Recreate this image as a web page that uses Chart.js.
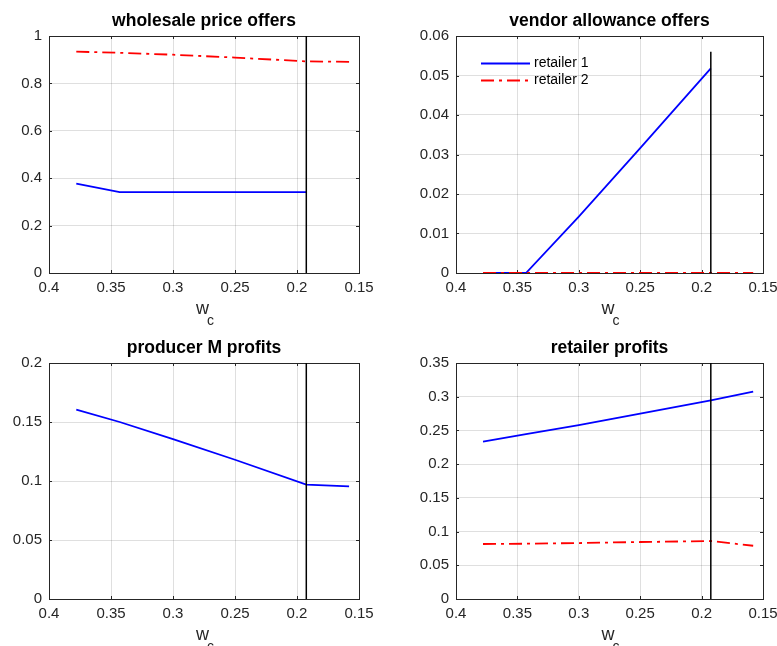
<!DOCTYPE html>
<html>
<head>
<meta charset="utf-8">
<title>offers and profits vs w_c</title>
<script src="https://cdn.jsdelivr.net/npm/chart.js@4.4.1/dist/chart.umd.min.js"></script>
<style>
  html, body { margin:0; padding:0; background:#fff; overflow:hidden; width:777px; height:646px; }
  canvas { position:absolute; }
</style>
</head>
<body>
<canvas id="p1"></canvas>
<canvas id="p2"></canvas>
<canvas id="p3"></canvas>
<canvas id="p4"></canvas>
<script>
// w_c sample points (x axis runs from 0.4 down to 0.15)
const wc = [0.378, 0.343, 0.3, 0.25, 0.1925, 0.158];
const wcCut = 0.1925;

// series, null = not plotted
const wholesaleR1 = [0.377, 0.341, 0.341, 0.341, 0.341, null];
const wholesaleR2 = [0.934, 0.929, 0.921, 0.909, 0.893, 0.891];
const allowanceR1 = [0, 0, 0.0143, 0.0316, 0.0518, null];
const allowanceR2 = [0, 0, 0, 0, 0, 0];
const producerM   = [0.1605, 0.150, 0.1355, 0.118, 0.097, 0.0955];
const retailR1    = [0.2335, 0.2445, 0.258, 0.275, 0.2945, 0.3075];
const retailR2    = [0.0816, 0.082, 0.083, 0.0845, 0.086, 0.079];

// tick labels
const xTicks = [0.4, 0.35, 0.3, 0.25, 0.2, 0.15];
const yTicksWholesale = [0, 0.2, 0.4, 0.6, 0.8, 1];
const yTicksAllowance = [0, 0.01, 0.02, 0.03, 0.04, 0.05, 0.06];
const yTicksProducer  = [0, 0.05, 0.1, 0.15, 0.2];
const yTicksRetail    = [0, 0.05, 0.1, 0.15, 0.2, 0.25, 0.3, 0.35];

// top end of the black marker line in each panel
const cutTops = [1, 0.056, 0.2, 0.35];

const FONT = '"Liberation Sans", Arial, Helvetica, sans-serif';
const AX = '#262626';

function pts(ys) {
  return wc.map((x, i) => ({ x, y: ys[i] })).filter(p => p.y != null);
}
const fmt = v => String(+(+v).toFixed(4));

function seg(ctx, x1, y1, x2, y2) {
  ctx.beginPath(); ctx.moveTo(x1, y1); ctx.lineTo(x2, y2); ctx.stroke();
}

// MATLAB-ish axes: box, inward ticks, title, xlabel with subscript, legend
const matlabAxes = {
  id: 'matlabAxes',
  beforeDatasetsDraw(chart, args, o) {
    const { ctx, chartArea: a, scales: { x, y } } = chart;
    ctx.save();
    ctx.strokeStyle = AX; ctx.lineWidth = 1;
    ctx.strokeRect(a.left + 0.5, a.top + 0.5, a.right - a.left, a.bottom - a.top);
    x.ticks.forEach(t => {
      const px = Math.round(x.getPixelForValue(t.value)) + 0.5;
      seg(ctx, px, a.bottom, px, a.bottom - 3);
      seg(ctx, px, a.top, px, a.top + 3);
    });
    y.ticks.forEach(t => {
      const py = Math.round(y.getPixelForValue(t.value)) + 0.5;
      seg(ctx, a.left, py, a.left + 3, py);
      seg(ctx, a.right, py, a.right - 3, py);
    });
    ctx.restore();
  },
  afterDraw(chart, args, o) {
    const { ctx, chartArea: a } = chart;
    const cx = (a.left + a.right) / 2;
    ctx.save();
    ctx.fillStyle = '#000';
    ctx.textAlign = 'center'; ctx.textBaseline = 'alphabetic';
    ctx.font = 'bold 17.5px ' + FONT;
    ctx.fillText(o.title, cx, a.top - 10);

    ctx.fillStyle = AX; ctx.textAlign = 'left';
    ctx.font = '18px ' + FONT;
    const ww = ctx.measureText('w').width;
    ctx.fillText('w', cx - 8, a.bottom + 41);
    ctx.font = '14px ' + FONT;
    ctx.fillText('c', cx - 10 + ww, a.bottom + 52);

    if (o.legend) {
      chart.data.datasets.filter(d => d.label).forEach((d, i) => {
        const yy = a.top + 27.5 + i * 17;
        ctx.strokeStyle = d.borderColor; ctx.lineWidth = d.borderWidth;
        ctx.setLineDash(d.borderDash || []);
        seg(ctx, a.left + 25, yy, a.left + 74, yy);
        ctx.setLineDash([]);
        ctx.fillStyle = '#000'; ctx.textBaseline = 'middle';
        ctx.font = '14px ' + FONT;
        ctx.fillText(d.label, a.left + 78, yy);
      });
    }
    ctx.restore();
  }
};

// canvas box and plot area (in canvas px) for each panel
const panels = [
  { id: 'p1', title: 'wholesale price offers', r1: wholesaleR1, r2: wholesaleR2, yTicks: yTicksWholesale,
    box: { left: 0, top: 0, w: 390, h: 332 }, area: { l: 49, t: 36, r: 359, b: 273 } },
  { id: 'p2', title: 'vendor allowance offers', r1: allowanceR1, r2: allowanceR2, yTicks: yTicksAllowance, legend: true,
    box: { left: 390, top: 0, w: 400, h: 332 }, area: { l: 66, t: 36, r: 373, b: 273 } },
  { id: 'p3', title: 'producer M profits', r1: producerM, r2: null, yTicks: yTicksProducer,
    box: { left: 0, top: 323, w: 390, h: 340 }, area: { l: 49, t: 40, r: 359, b: 276 } },
  { id: 'p4', title: 'retailer profits', r1: retailR1, r2: retailR2, yTicks: yTicksRetail,
    box: { left: 390, top: 323, w: 400, h: 340 }, area: { l: 66, t: 40, r: 373, b: 276 } }
];

panels.forEach((p, i) => {
  const cv = document.getElementById(p.id);
  cv.width = p.box.w; cv.height = p.box.h;
  cv.style.left = p.box.left + 'px'; cv.style.top = p.box.top + 'px';
  cv.style.width = p.box.w + 'px'; cv.style.height = p.box.h + 'px';

  const datasets = [
    { label: 'retailer 1', data: pts(p.r1), borderColor: '#0000ff', borderWidth: 1.8, order: 2 }
  ];
  if (p.r2) datasets.push(
    { label: 'retailer 2', data: pts(p.r2), borderColor: '#ff0000', borderWidth: 1.8, borderDash: [13, 5, 3, 5], order: 1 });
  datasets.push(
    { label: '', data: [{ x: wcCut, y: 0 }, { x: wcCut, y: cutTops[i] }], borderColor: '#000', borderWidth: 1.5, order: 0 });
  datasets.forEach(d => { d.showLine = true; d.pointRadius = 0; d.fill = false; });

  const tickFont = { family: FONT, size: 15 };
  const yt = p.yTicks;

  new Chart(cv, {
    type: 'scatter',
    data: { datasets },
    options: {
      responsive: false, animation: false, events: [],
      layout: { padding: { left: 0, top: p.area.t, right: p.box.w - p.area.r, bottom: 0 } },
      plugins: {
        legend: { display: false }, tooltip: { enabled: false },
        matlabAxes: { title: p.title, legend: !!p.legend }
      },
      scales: {
        x: {
          type: 'linear', reverse: true, min: 0.15, max: 0.4,
          afterBuildTicks: s => { s.ticks = xTicks.map(v => ({ value: v })); },
          afterFit: s => { s.height = p.box.h - p.area.b; },
          grid: { color: 'rgba(38,38,38,0.15)', drawTicks: false },
          border: { display: false },
          ticks: { font: tickFont, color: AX, padding: 6, maxRotation: 0, autoSkip: false, callback: fmt }
        },
        y: {
          type: 'linear', min: yt[0], max: yt[yt.length - 1],
          afterBuildTicks: s => { s.ticks = yt.map(v => ({ value: v })); },
          afterFit: s => { s.width = p.area.l; },
          grid: { color: 'rgba(38,38,38,0.15)', drawTicks: false },
          border: { display: false },
          ticks: { font: tickFont, color: AX, padding: 7, autoSkip: false, callback: fmt }
        }
      }
    },
    plugins: [matlabAxes]
  });
});
</script>
</body>
</html>
